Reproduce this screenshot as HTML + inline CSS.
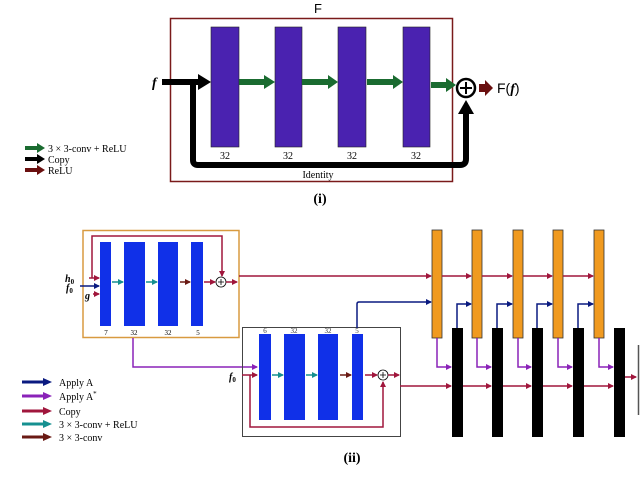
<!DOCTYPE html>
<html><head><meta charset="utf-8"><style>
html,body{margin:0;padding:0;background:#fff;width:640px;height:484px;overflow:hidden}
svg{display:block}
text{font-family:"Liberation Serif",serif}
</style></head><body>
<svg width="640" height="484" viewBox="0 0 640 484" xmlns="http://www.w3.org/2000/svg">
<defs>
<marker id="mr" markerWidth="6" markerHeight="6" refX="5" refY="3" orient="auto" markerUnits="userSpaceOnUse"><path d="M0,0 L6,3 L0,6 Z" fill="#a0163c"/></marker>
<marker id="mb" markerWidth="6" markerHeight="6" refX="5" refY="3" orient="auto" markerUnits="userSpaceOnUse"><path d="M0,0 L6,3 L0,6 Z" fill="#0a1a80"/></marker>
<marker id="mp" markerWidth="6" markerHeight="6" refX="5" refY="3" orient="auto" markerUnits="userSpaceOnUse"><path d="M0,0 L6,3 L0,6 Z" fill="#8a22b8"/></marker>
<marker id="mt" markerWidth="6" markerHeight="6" refX="5" refY="3" orient="auto" markerUnits="userSpaceOnUse"><path d="M0,0 L6,3 L0,6 Z" fill="#159090"/></marker>
<marker id="md" markerWidth="6" markerHeight="6" refX="5" refY="3" orient="auto" markerUnits="userSpaceOnUse"><path d="M0,0 L6,3 L0,6 Z" fill="#6a1a14"/></marker>
</defs>

<text x="318" y="13" font-size="13" text-anchor="middle" style="font-family:'Liberation Sans',sans-serif">F</text>
<rect x="170.5" y="18.5" width="282" height="163" fill="none" stroke="#7a1a1a" stroke-width="1.5"/>
<g fill="#4a22b0" stroke="#222" stroke-width="0.6">
<rect x="211" y="27" width="28" height="120"/><rect x="275" y="27" width="27" height="120"/>
<rect x="338" y="27" width="28" height="120"/><rect x="403" y="27" width="27" height="120"/>
</g>
<g font-size="10" text-anchor="middle"><text x="225" y="159">32</text><text x="288" y="159">32</text><text x="352" y="159">32</text><text x="416" y="159">32</text></g>
<text x="318" y="178" font-size="10" text-anchor="middle">Identity</text>
<text x="152" y="87" font-size="14" font-style="italic" font-weight="bold">f</text>
<path d="M162,82 H200" stroke="#000" stroke-width="6"/>
<path d="M198,74 L211,82 L198,90 Z" fill="#000"/>
<path d="M193,82 V160 Q193,165 198,165 H460 Q466,165 466,159 V112" stroke="#000" stroke-width="6" fill="none"/>
<path d="M458,114 L466,100 L474,114 Z" fill="#000"/>
<g fill="#1a6b30">
<path d="M239,79 H264 V75 L275,82 L264,89 V85 H239 Z"/>
<path d="M302,79 H328 V75 L338,82 L328,89 V85 H302 Z"/>
<path d="M367,79 H393 V75 L403,82 L393,89 V85 H367 Z"/>
<path d="M431,82 H446 V78 L456,85 L446,92 V88 H431 Z"/>
</g>
<circle cx="466" cy="88" r="9" fill="#fff" stroke="#000" stroke-width="2.5"/>
<path d="M460,88 H472 M466,82 V94" stroke="#000" stroke-width="2"/>
<path d="M479,84 H485 V80 L493,88 L485,96 V92 H479 Z" fill="#6a0f0f"/>
<text x="497" y="93" font-size="14" style="font-family:'Liberation Sans',sans-serif">F(<tspan font-style="italic" font-weight="bold" style="font-family:'Liberation Serif',serif">f</tspan>)</text>
<path d="M25,146 H37 V143 L45,148 L37,153 V150 H25 Z" fill="#1a6b30"/>
<path d="M25,157 H37 V154 L45,159 L37,164 V161 H25 Z" fill="#000"/>
<path d="M25,168 H37 V165 L45,170 L37,175 V172 H25 Z" fill="#6a0f0f"/>
<text x="48" y="152" font-size="10">3 × 3-conv + ReLU</text>
<text x="48" y="163" font-size="10">Copy</text>
<text x="48" y="174" font-size="10">ReLU</text>
<text x="320" y="203" font-size="14" font-weight="bold" text-anchor="middle">(i)</text>

<rect x="83" y="230.5" width="156" height="107" fill="none" stroke="#d89a40" stroke-width="1.5"/>
<g fill="#1030e8">
<rect x="100" y="242" width="11" height="84"/><rect x="124" y="242" width="21" height="84"/>
<rect x="158" y="242" width="20" height="84"/><rect x="191" y="242" width="12" height="84"/>
</g>
<g font-size="7" text-anchor="middle"><text x="106" y="335">7</text><text x="134" y="335">32</text><text x="168" y="335">32</text><text x="198" y="335">5</text></g>
<text x="65" y="282" font-size="10" font-weight="bold" font-style="italic">h<tspan font-size="7" font-style="normal" dy="2">0</tspan></text>
<text x="66" y="291" font-size="10" font-weight="bold" font-style="italic">f<tspan font-size="7" font-style="normal" dy="2">0</tspan></text>
<text x="85" y="299" font-size="10" font-weight="bold" font-style="italic">g</text>
<path d="M89,278 H99" stroke="#a0163c" stroke-width="1.5" marker-end="url(#mr)"/>
<path d="M80,286 H99" stroke="#0a1a80" stroke-width="1.5" marker-end="url(#mb)"/>
<path d="M93,294 H99" stroke="#a0163c" stroke-width="1.5" marker-end="url(#mr)"/>
<path d="M92,278 V236 H222 V276" stroke="#a0163c" stroke-width="1.5" fill="none" marker-end="url(#mr)"/>
<path d="M112,282 H123" stroke="#159090" stroke-width="1.5" marker-end="url(#mt)"/>
<path d="M146,282 H157" stroke="#159090" stroke-width="1.5" marker-end="url(#mt)"/>
<path d="M180,282 H190" stroke="#6a1a14" stroke-width="1.5" marker-end="url(#md)"/>
<path d="M204,282 H215" stroke="#a0163c" stroke-width="1.5" marker-end="url(#mr)"/>
<circle cx="221" cy="282" r="5" fill="#fff" stroke="#000" stroke-width="0.8"/>
<path d="M218,282 H224 M221,279 V285" stroke="#000" stroke-width="0.8"/>
<path d="M226,282 H237" stroke="#a0163c" stroke-width="1.5" marker-end="url(#mr)"/>
<path d="M239,276 H431" stroke="#a0163c" stroke-width="1.5" fill="none" marker-end="url(#mr)"/>
<path d="M133,338 V367 H257" stroke="#8a22b8" stroke-width="1.5" fill="none" marker-end="url(#mp)"/>

<rect x="242.5" y="327.5" width="158" height="109" fill="none" stroke="#444" stroke-width="1"/>
<g fill="#1030e8">
<rect x="259" y="334" width="12" height="86"/><rect x="284" y="334" width="21" height="86"/>
<rect x="318" y="334" width="20" height="86"/><rect x="352" y="334" width="11" height="86"/>
</g>
<g font-size="7" text-anchor="middle" fill="#333"><text x="265" y="333">6</text><text x="294" y="333">32</text><text x="328" y="333">32</text><text x="357" y="333">5</text></g>
<text x="229" y="380" font-size="10" font-weight="bold" font-style="italic">f<tspan font-size="7" font-style="normal" dy="2">0</tspan></text>
<path d="M242,375 H257" stroke="#a0163c" stroke-width="1.5" marker-end="url(#mr)"/>
<path d="M250,375 V427 H383 V382" stroke="#a0163c" stroke-width="1.5" fill="none" marker-end="url(#mr)"/>
<path d="M272,375 H283" stroke="#159090" stroke-width="1.5" marker-end="url(#mt)"/>
<path d="M306,375 H317" stroke="#159090" stroke-width="1.5" marker-end="url(#mt)"/>
<path d="M340,375 H351" stroke="#6a1a14" stroke-width="1.5" marker-end="url(#md)"/>
<path d="M365,375 H377" stroke="#a0163c" stroke-width="1.5" marker-end="url(#mr)"/>
<circle cx="383" cy="375" r="5" fill="#fff" stroke="#000" stroke-width="0.8"/>
<path d="M380,375 H386 M383,372 V378" stroke="#000" stroke-width="0.8"/>
<path d="M388,375 H399" stroke="#a0163c" stroke-width="1.5" marker-end="url(#mr)"/>
<path d="M357,328 V304 Q357,302 359,302 H431" stroke="#0a1a80" stroke-width="1.5" fill="none" marker-end="url(#mb)"/>
<path d="M400,386 H451" stroke="#a0163c" stroke-width="1.5" marker-end="url(#mr)"/>

<g fill="#f09a20" stroke="#333" stroke-width="0.8">
<rect x="432" y="230" width="10" height="108"/><rect x="472" y="230" width="10" height="108"/>
<rect x="513" y="230" width="10" height="108"/><rect x="553" y="230" width="10" height="108"/>
<rect x="594" y="230" width="10" height="108"/>
</g>
<g fill="#000">
<rect x="452" y="328" width="11" height="109"/><rect x="492" y="328" width="11" height="109"/>
<rect x="532" y="328" width="11" height="109"/><rect x="573" y="328" width="11" height="109"/>
<rect x="614" y="328" width="11" height="109"/>
</g>
<g stroke-width="1.5" fill="none">
<path d="M442,276 H471" stroke="#a0163c" marker-end="url(#mr)"/>
<path d="M482,276 H512" stroke="#a0163c" marker-end="url(#mr)"/>
<path d="M523,276 H552" stroke="#a0163c" marker-end="url(#mr)"/>
<path d="M563,276 H593" stroke="#a0163c" marker-end="url(#mr)"/>
<path d="M457,328 V304 H471" stroke="#0a1a80" marker-end="url(#mb)"/>
<path d="M497,328 V304 H512" stroke="#0a1a80" marker-end="url(#mb)"/>
<path d="M537,328 V304 H552" stroke="#0a1a80" marker-end="url(#mb)"/>
<path d="M578,328 V304 H593" stroke="#0a1a80" marker-end="url(#mb)"/>
<path d="M437,338 V367 H451" stroke="#8a22b8" marker-end="url(#mp)"/>
<path d="M477,338 V367 H491" stroke="#8a22b8" marker-end="url(#mp)"/>
<path d="M518,338 V367 H531" stroke="#8a22b8" marker-end="url(#mp)"/>
<path d="M558,338 V367 H572" stroke="#8a22b8" marker-end="url(#mp)"/>
<path d="M599,338 V367 H613" stroke="#8a22b8" marker-end="url(#mp)"/>
<path d="M463,386 H491" stroke="#a0163c" marker-end="url(#mr)"/>
<path d="M503,386 H531" stroke="#a0163c" marker-end="url(#mr)"/>
<path d="M543,386 H572" stroke="#a0163c" marker-end="url(#mr)"/>
<path d="M584,386 H613" stroke="#a0163c" marker-end="url(#mr)"/>
<path d="M625,377 H636" stroke="#a0163c" marker-end="url(#mr)"/>
</g>
<path d="M638.5,345 V415" stroke="#555" stroke-width="1.5"/>

<g stroke-width="3" fill="none">
<path d="M22,382 H44" stroke="#0a1a80"/><path d="M22,396 H44" stroke="#8a22b8"/>
<path d="M22,411 H44" stroke="#a0163c"/><path d="M22,424 H44" stroke="#159090"/>
<path d="M22,437 H44" stroke="#6a1a14"/>
</g>
<path d="M43,378 L52,382 L43,386 Z" fill="#0a1a80"/>
<path d="M43,392 L52,396 L43,400 Z" fill="#8a22b8"/>
<path d="M43,407 L52,411 L43,415 Z" fill="#a0163c"/>
<path d="M43,420 L52,424 L43,428 Z" fill="#159090"/>
<path d="M43,433 L52,437 L43,441 Z" fill="#6a1a14"/>
<g font-size="10">
<text x="59" y="386">Apply A</text><text x="59" y="400">Apply A<tspan font-size="7" dy="-4">*</tspan></text>
<text x="59" y="415">Copy</text><text x="59" y="428">3 × 3-conv + ReLU</text><text x="59" y="441">3 × 3-conv</text>
</g>
<text x="352" y="462" font-size="14" font-weight="bold" text-anchor="middle">(ii)</text>
<text x="0" y="495" font-size="13" fill="#999">Figure 1: (i) The architecture for the two-dimensional ResNet. (ii) Definition of the LearnedPD</text>
</svg>
</body></html>
